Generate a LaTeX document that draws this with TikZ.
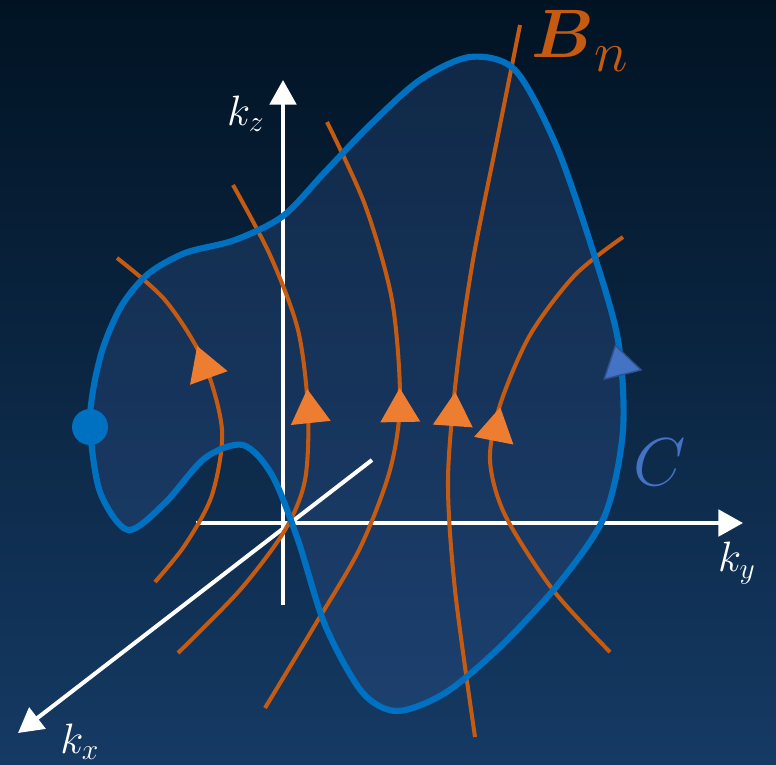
\documentclass[tikz,border=0pt]{standalone}
\usepackage{bm}
\usetikzlibrary{arrows.meta}
\definecolor{bgtop}{RGB}{1,19,35}
\definecolor{bgbottom}{RGB}{21,58,100}
\definecolor{loopblue}{RGB}{0,112,192}
\definecolor{loopfill}{RGB}{50,85,145}
\definecolor{tipblue}{RGB}{68,114,196}
\definecolor{tipedge}{RGB}{47,82,143}
\definecolor{fieldorange}{RGB}{197,90,17}
\definecolor{tiporange}{RGB}{237,125,49}

\tikzset{
  axisline/.style={white, line width=2.3pt, -{Triangle[width=15pt, length=14pt]}},
  fieldline/.style={fieldorange, line width=2.3pt},
  loopline/.style={loopblue, line width=3.5pt},
  axislabel/.style={white, font=\LARGE, scale=1.4},
  fieldtip/.pic={\fill[tiporange] (17,0) -- (-17,20) -- (-17,-20) -- cycle;},
  looptip/.pic={\filldraw[fill=tipblue, draw=tipedge, line width=0.8pt] (15,0) -- (-15,19) -- (-15,-19) -- cycle;},
}

\begin{document}
\begin{tikzpicture}[x=0.02cm, y=-0.02cm]
  \useasboundingbox (0,0) rectangle (776,764);

  % background
  \shade[top color=bgtop, bottom color=bgbottom] (0,0) rectangle (776,764);

  % surface bounded by C
  \fill[loopfill, opacity=0.3] plot[smooth cycle] coordinates {
    (90,427) (100,492) (128,530) (165,503) (205,458) (243,445) (272,475)
    (298,540) (325,625) (362,692) (397,711) (445,693) (500,647) (560,582)
    (605,515) (623,430) (618,340) (592,248) (556,145) (515,70) (470,57)
    (420,80) (370,125) (325,172) (283,216) (235,240) (185,253) (148,274)
    (122,305) (104,345) (94,385)};

  % axes
  \coordinate (origin) at (283,523);
  \coordinate (kzfoot) at (283,605);
  \coordinate (kztip) at (283,80);
  \coordinate (kyfoot) at (196,523);
  \coordinate (kytip) at (743,523);
  \coordinate (kxfoot) at (372,460);
  \coordinate (kxtip) at (18,733);
  \draw[axisline] (kzfoot) -- (kztip);
  \draw[axisline] (kyfoot) -- (kytip);
  \draw[axisline] (kxfoot) -- (kxtip);
  \node[axislabel] (kzlabel) at (246,114) {$k_z$};
  \node[axislabel] (kylabel) at (737,563) {$k_y$};
  \node[axislabel] (kxlabel) at (80,742) {$k_x$};

  % field lines B_n
  \draw[fieldline] plot[smooth] coordinates {(117,258) (165,300) (203,360)
    (222,430) (212,495) (185,545) (155,582)};
  \draw[fieldline] plot[smooth] coordinates {(233,185) (270,255) (298,330)
    (308,410) (305,480) (285,530) (240,590) (178,653)};
  \draw[fieldline] plot[smooth] coordinates {(327,122) (365,205) (392,300)
    (400,400) (390,470) (360,548) (315,625) (265,708)};
  \draw[fieldline] plot[smooth] coordinates {(520,25) (497,140) (473,260)
    (457,370) (448,480) (455,590) (475,737)};
  \draw[fieldline] plot[smooth] coordinates {(623,237) (575,275) (530,335)
    (500,405) (490,460) (505,515) (553,590) (610,652)};

  % loop C
  \draw[loopline] plot[smooth cycle] coordinates {
    (90,427) (100,492) (128,530) (165,503) (205,458) (243,445) (272,475)
    (298,540) (325,625) (362,692) (397,711) (445,693) (500,647) (560,582)
    (605,515) (623,430) (618,340) (592,248) (556,145) (515,70) (470,57)
    (420,80) (370,125) (325,172) (283,216) (235,240) (185,253) (148,274)
    (122,305) (104,345) (94,385)};
  \fill[loopblue] (90,427) circle[radius=18];

  % direction tips
  \pic[rotate=110] at (203,362) {fieldtip};
  \pic[rotate=96] at (309,406) {fieldtip};
  \pic[rotate=91] at (400,405) {fieldtip};
  \pic[rotate=86] at (454,409) {fieldtip};
  \pic[rotate=79] at (497,424) {fieldtip};
  \pic[rotate=104] at (619,360) {looptip};

  % labels
  \node[tipblue, font=\Huge, scale=1.55] (Clabel) at (660,462) {$C$};
  \node[fieldorange, font=\Huge, scale=1.57] (Blabel) at (580,41)
    {$\bm{B}$\raisebox{-5.4pt}{\huge$n$}};
\end{tikzpicture}
\end{document}
